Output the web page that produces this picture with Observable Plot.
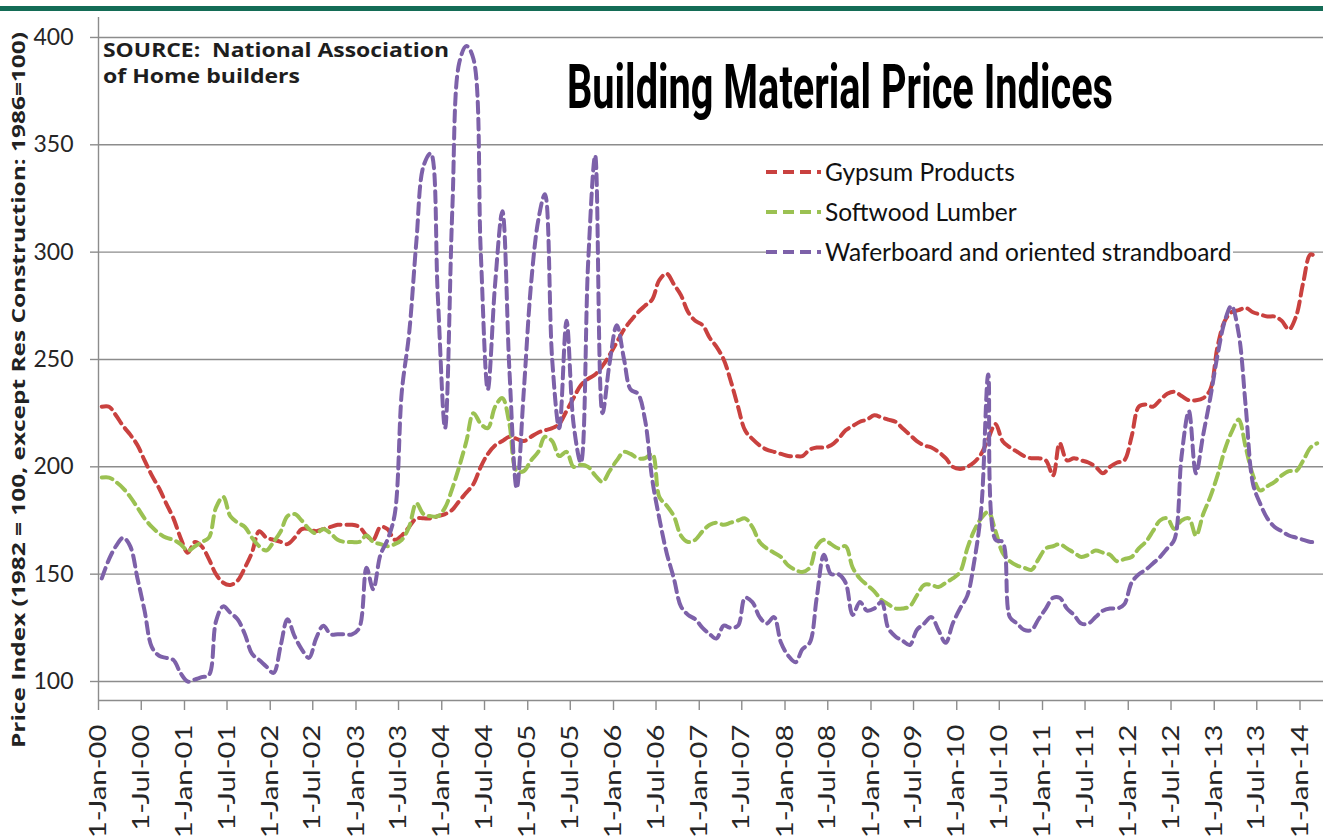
<!DOCTYPE html>
<html><head><meta charset="utf-8">
<script src="https://cdn.jsdelivr.net/npm/d3@7"></script>
<script src="https://cdn.jsdelivr.net/npm/@observablehq/plot@0.6"></script>
<style>
html,body{margin:0;padding:0;background:#fff;}
#wrap{position:relative;width:1323px;height:839px;overflow:hidden;}
#bar{position:absolute;left:0;top:6px;width:1323px;height:5px;background:#146c56;}
#wrap svg{position:absolute;left:0;top:0;}
</style></head><body><div id="wrap"><div id="bar"></div></div>
<script>
// Monthly index values, Jan-2000 .. Mar-2014
const gypsum = [
228,228,224,219,215,210,203,196,190,183,176,167,
160,165,163,157,150,146,145,147,153,160,170,167,
166,165,164,167,171,171,170,171,172,173,173,173,
172,168,166,172,171,166,168,172,176,176,176,177,
178,180,184,188,192,200,206,210,212,214,213,212,
214,216,217,218,220,226,232,238,241,243,247,252,
258,264,268,272,275,278,287,290,285,280,272,268,
266,260,256,250,240,228,217,213,210,208,207,206,
205,205,205,208,209,209,210,213,217,219,221,222,
224,223,222,221,218,215,212,210,209,207,204,200,
199,200,202,206,213,220,212,209,207,205,204,204,
203,196,211,203,204,203,202,200,197,200,202,203,
214,228,229,228,231,234,235,233,231,231,232,236,
256,268,272,273,274,272,271,270,270,268,264,270,286,299,297];
const softwood = [
195,195,193,190,186,181,176,172,169,167,166,164,
161,163,165,167,181,186,177,174,172,167,163,161,
165,170,177,178,175,171,169,171,169,166,165,165,
165,168,165,164,163,164,166,172,183,178,177,177,
181,190,200,212,225,220,218,228,232,220,198,198,
203,207,214,212,205,207,200,201,200,196,193,198,
203,207,206,204,204,206,186,182,177,168,165,166,
170,173,174,173,174,175,176,172,165,162,160,158,
154,152,151,153,163,166,164,162,163,153,148,145,
142,138,136,134,134,135,140,145,145,144,146,148,
151,162,170,176,179,170,160,156,154,153,152,157,
162,163,164,162,160,158,159,161,160,159,156,157,
158,162,165,170,175,176,171,175,176,168,178,186,
196,208,216,222,209,196,189,191,193,196,198,198,203,209,211];
const osb = [
148,157,163,167,163,148,133,116,112,111,110,104,
100,101,102,103,128,135,132,129,122,113,110,107,
104,117,129,121,115,111,120,126,122,122,122,122,
125,153,143,159,166,178,235,262,305,340,346,280,
218,320,388,396,390,300,236,285,319,245,190,235,
285,315,327,250,218,268,220,202,295,345,225,248,
266,250,236,234,222,194,176,160,148,135,131,129,
125,122,120,126,125,126,139,137,130,127,130,118,
112,109,115,118,139,159,150,150,146,131,137,133,
134,137,125,121,119,117,124,127,130,124,118,127,
134,140,155,180,243,166,165,130,127,124,124,129,
134,139,139,134,131,127,127,130,133,134,134,136,
146,150,152,155,158,162,166,205,226,197,215,232,
252,268,275,262,228,192,183,176,172,170,168,167,166,165,165];

const seriesNames = ["Gypsum Products", "Softwood Lumber", "Waferboard and oriented strandboard"];
const seriesColors = ["#c9413f", "#9bc152", "#7d61a9"];
const yTicks = [100, 150, 200, 250, 300, 350, 400];
const monthNames = ["Jan","Feb","Mar","Apr","May","Jun","Jul","Aug","Sep","Oct","Nov","Dec"];
const xTicks = d3.utcMonth.every(6).range(new Date(Date.UTC(2000,0,1)), new Date(Date.UTC(2014,0,2)));
const titleText = "Building Material Price Indices";
const sourceLines = ["SOURCE:  National Association", "of Home builders"];
const yTitle = "Price Index (1982 = 100, except Res Construction: 1986=100)";

const rows = [];
[gypsum, softwood, osb].forEach((arr, s) => arr.forEach((v, i) =>
  rows.push({date: new Date(Date.UTC(2000, i, 15)), value: v, series: seriesNames[s]})));

const fmt = d => `${d.getUTCDate()}-${monthNames[d.getUTCMonth()]}-${String(d.getUTCFullYear() % 100).padStart(2, "0")}`;

const chart = Plot.plot({
  width: 1323, height: 839,
  marginLeft: 98, marginRight: 0, marginTop: 17, marginBottom: 139,
  style: {fontFamily: "Lato, sans-serif", background: "transparent", color: "#262626"},
  x: {type: "utc", domain: [new Date(Date.UTC(2000,0,1)), new Date(Date.UTC(2014,3,11))]},
  y: {domain: [91.15, 409.3]},
  color: {domain: seriesNames, range: seriesColors},
  marks: [
    Plot.ruleY(yTicks, {stroke: "#8c8c8c", strokeWidth: 1.4}),
    Plot.ruleY([91.15], {stroke: "#8c8c8c", strokeWidth: 1.4}),
    Plot.ruleX([new Date(Date.UTC(2000,0,1))], {stroke: "#8c8c8c", strokeWidth: 1.4}),
    Plot.axisY({ticks: yTicks, tickSize: 8, tickPadding: 17, fontSize: 23, label: null}),
    Plot.axisX({ticks: xTicks, tickFormat: fmt, tickRotate: -90, tickSize: 10, tickPadding: 14, fontSize: 24, label: null}),
    Plot.line(rows, {x: "date", y: "value", stroke: "series", strokeWidth: 4, strokeDasharray: "11,6", curve: "catmull-rom"})
  ]
});
document.getElementById("wrap").appendChild(chart);

const svg = d3.select(chart);
svg.selectAll('g[aria-label="y-axis tick"], g[aria-label="x-axis tick"]').attr("stroke", "#8c8c8c").attr("stroke-width", 1.4);
svg.selectAll('g[aria-label="x-axis tick label"] text').each(function() {
  const t = this.getAttribute("transform") || "";
  this.setAttribute("transform", t + " scale(1.22,1)");
});

// Title
svg.append("text").attr("x", 840).attr("y", 108).attr("text-anchor", "middle")
  .attr("font-family", "Roboto").attr("font-weight", 700).attr("font-size", 62)
  .attr("textLength", 546).attr("lengthAdjust", "spacingAndGlyphs").attr("fill", "#000")
  .text(titleText);

// Source note
const sourceWidths = [346, 197];
sourceLines.forEach((s, i) => svg.append("text").attr("x", 103).attr("y", 57 + 26 * i)
  .attr("text-anchor", "start")
  .attr("font-family", "Open Sans").attr("font-weight", 700).attr("font-size", 20).attr("fill", "#1e1e1e")
  .attr("textLength", sourceWidths[i]).attr("lengthAdjust", "spacingAndGlyphs").text(s));

// Y axis title
svg.append("text").attr("transform", "translate(25,390) rotate(-90)").attr("text-anchor", "middle")
  .attr("font-family", "Open Sans").attr("font-weight", 700).attr("font-size", 18).attr("fill", "#222")
  .attr("textLength", 716).attr("lengthAdjust", "spacingAndGlyphs").text(yTitle);

// Legend
const lg = svg.append("g");
lg.append("rect").attr("x", 766).attr("y", 155).attr("width", 467).attr("height", 113).attr("fill", "#fff");
seriesNames.forEach((name, i) => {
  const y = 172 + 40 * i;
  lg.append("line").attr("x1", 766).attr("x2", 821).attr("y1", y).attr("y2", y)
    .attr("stroke", seriesColors[i]).attr("stroke-width", 4).attr("stroke-dasharray", "11,6");
  lg.append("text").attr("x", 825).attr("y", y).attr("dy", "0.35em").attr("text-anchor", "start")
    .attr("font-family", "Lato").attr("font-size", 24.5).attr("fill", "#111").text(name);
});
</script></body></html>
